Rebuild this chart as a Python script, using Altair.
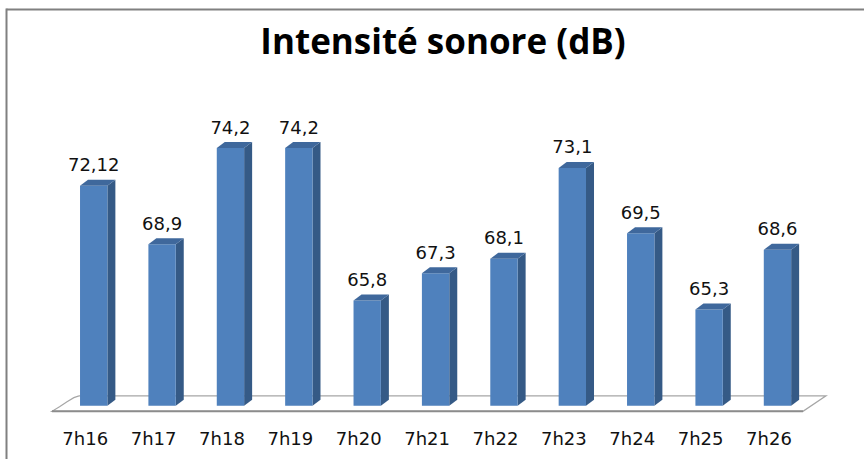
import altair as alt
import pandas as pd

# Sound level readings, one per minute
times = ["7h16", "7h17", "7h18", "7h19", "7h20", "7h21", "7h22", "7h23", "7h24", "7h25", "7h26"]
levels = [72.12, 68.9, 74.2, 74.2, 65.8, 67.3, 68.1, 73.1, 69.5, 65.3, 68.6]
level_text = ["72,12", "68,9", "74,2", "74,2", "65,8", "67,3", "68,1", "73,1", "69,5", "65,3", "68,6"]

BASE = 60.0     # value axis minimum (bars start here)
HALF = 0.2      # half width of a column's front face, in category units
DX = 0.117      # depth of the 3-D columns along x, in category units
DY = 0.33       # depth of the 3-D columns along y, in dB

FRONT = "#4f81bd"
SIDE = "#355a86"
TOP = "#3f689c"

n = len(times)
front = pd.DataFrame({
    "i": list(range(n)),
    "t": times,
    "v": levels,
    "lab": level_text,
})
front["x0"] = front["i"] - HALF
front["x1"] = front["i"] + HALF
front["b"] = BASE

side_rows, top_rows = [], []
for i, v in enumerate(levels):
    side_rows.append({"bar": i, "x": i + HALF, "top": v, "bot": BASE})
    side_rows.append({"bar": i, "x": i + HALF + DX, "top": v + DY, "bot": BASE + DY})
    top_rows.append({"bar": i, "y": v, "xa": i - HALF, "xb": i + HALF})
    top_rows.append({"bar": i, "y": v + DY, "xa": i - HALF + DX, "xb": i + HALF + DX})
side = pd.DataFrame(side_rows)
top = pd.DataFrame(top_rows)

# Floor of the 3-D plot: back edge, right side, front edge, rounded left side
floor_x = [-0.215, 10.71, 10.373, -0.61, -0.5, -0.39, -0.29, -0.215]
floor_y = [60.55, 60.55, 59.7, 59.7, 59.95, 60.23, 60.45, 60.55]
floor = pd.DataFrame({"x": floor_x, "y": floor_y, "k": list(range(len(floor_x)))})
front_edge = pd.DataFrame({"x": [-0.61, 10.373], "y": [59.7, 59.7]})

xs = alt.Scale(domain=[-0.8, 10.9], nice=False, zero=False)
ys = alt.Scale(domain=[59, 78], nice=False, zero=False)

label_expr = "[" + ",".join("'" + t + "'" for t in times) + "][datum.value]"
x_axis = alt.Axis(
    values=list(range(n)),
    labelExpr=label_expr,
    title=None,
    domain=False,
    ticks=False,
    tickSize=0,
    grid=False,
    labelFont="DejaVu Sans",
    labelFontSize=18,
    labelColor="#111111",
    labelPadding=6,
    labelOffset=-9,
)


def X(field):
    return alt.X(field, type="quantitative", scale=xs, axis=x_axis)


def Y(field):
    return alt.Y(field, type="quantitative", scale=ys, axis=None)


floor_line = alt.Chart(floor).mark_line(color="#a6a6a6", strokeWidth=1.2).encode(
    x=X("x"), y=Y("y"), order="k:Q"
)
floor_front = alt.Chart(front_edge).mark_line(color="#8c8c8c", strokeWidth=2).encode(
    x=X("x"), y=Y("y")
)

front_faces = alt.Chart(front).mark_bar(color=FRONT).encode(
    x=X("x0"), x2="x1:Q", y=Y("b"), y2="v:Q"
)

side_faces = alt.Chart(side).mark_area(color=SIDE).encode(
    x=X("x"), y=Y("top"), y2="bot:Q", detail="bar:N"
)

top_faces = alt.Chart(top).mark_area(color=TOP, orient="horizontal").encode(
    y=Y("y"), x=X("xa"), x2="xb:Q", detail="bar:N"
)

value_labels = alt.Chart(front).mark_text(
    font="DejaVu Sans", fontSize=18, color="#111111", baseline="alphabetic", dy=-14.5
).encode(
    x=X("i"), y=Y("v"), text="lab:N"
)

frame_top = alt.Chart(pd.DataFrame({"a": [0]})).mark_rule(color="#808080", strokeWidth=2).encode(
    x=alt.value(-32.5), x2=alt.value(840), y=alt.value(-69.5)
)
frame_left = alt.Chart(pd.DataFrame({"a": [1]})).mark_rule(color="#808080", strokeWidth=2).encode(
    x=alt.value(-32.5), y=alt.value(-70.5), y2=alt.value(400)
)

chart = alt.layer(
    frame_top, frame_left, floor_line, floor_front, side_faces, front_faces, top_faces, value_labels
).properties(
    width=800,
    height=345,
    title=alt.Title(
        "Intensité sonore (dB)",
        font="Open Sans",
        fontSize=35,
        fontWeight="bold",
        color="#000000",
        anchor="middle",
        baseline="alphabetic",
        offset=-81,
        dx=4,
    ),
    padding={"left": 39, "top": 79, "right": 25, "bottom": 35},
    autosize=alt.AutoSizeParams(type="none"),
).configure(background="white").configure_view(stroke=None)

chart.save("out.html", embed_options={"renderer": "svg", "actions": False})
